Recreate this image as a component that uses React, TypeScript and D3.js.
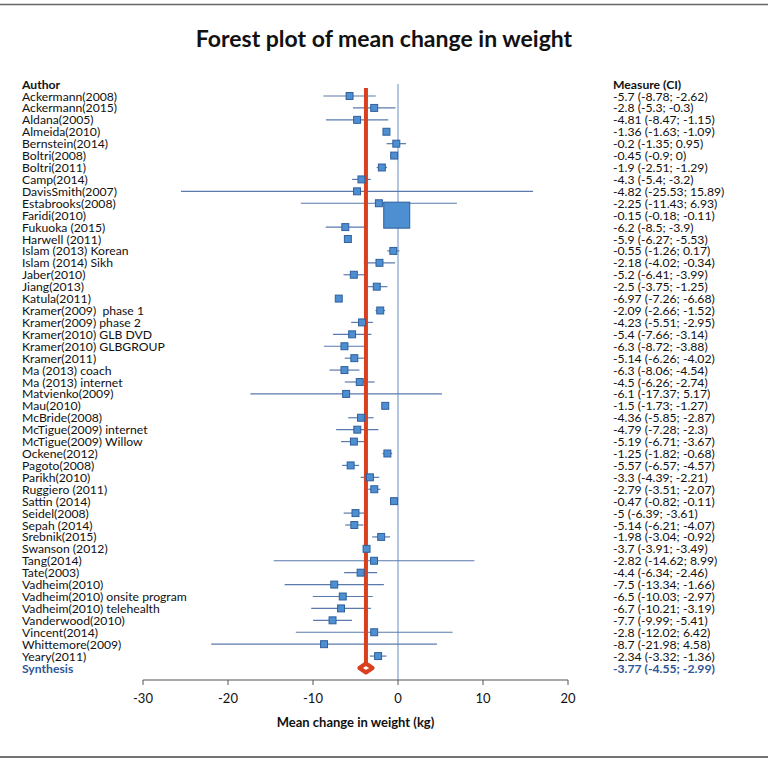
import * as d3 from "d3";

const authors = [
  "Ackermann(2008)", "Ackermann(2015)", "Aldana(2005)", "Almeida(2010)", "Bernstein(2014)",
  "Boltri(2008)", "Boltri(2011)", "Camp(2014)", "DavisSmith(2007)", "Estabrooks(2008)",
  "Faridi(2010)", "Fukuoka (2015)", "Harwell (2011)", "Islam (2013) Korean", "Islam (2014) Sikh",
  "Jaber(2010)", "Jiang(2013)", "Katula(2011)", "Kramer(2009)  phase 1", "Kramer(2009) phase 2",
  "Kramer(2010) GLB DVD", "Kramer(2010) GLBGROUP", "Kramer(2011)", "Ma (2013) coach", "Ma (2013) internet",
  "Matvienko(2009)", "Mau(2010)", "McBride(2008)", "McTigue(2009) internet", "McTigue(2009) Willow",
  "Ockene(2012)", "Pagoto(2008)", "Parikh(2010)", "Ruggiero (2011)", "Sattin (2014)",
  "Seidel(2008)", "Sepah (2014)", "Srebnik(2015)", "Swanson (2012)", "Tang(2014)",
  "Tate(2003)", "Vadheim(2010)", "Vadheim(2010) onsite program", "Vadheim(2010) telehealth", "Vanderwood(2010)",
  "Vincent(2014)", "Whittemore(2009)", "Yeary(2011)",
];

const means = [
  -5.7, -2.8, -4.81, -1.36, -0.2, -0.45, -1.9, -4.3, -4.82, -2.25,
  -0.15, -6.2, -5.9, -0.55, -2.18, -5.2, -2.5, -6.97, -2.09, -4.23,
  -5.4, -6.3, -5.14, -6.3, -4.5, -6.1, -1.5, -4.36, -4.79, -5.19,
  -1.25, -5.57, -3.3, -2.79, -0.47, -5, -5.14, -1.98, -3.7, -2.82,
  -4.4, -7.5, -6.5, -6.7, -7.7, -2.8, -8.7, -2.34,
];

const lower = [
  -8.78, -5.3, -8.47, -1.63, -1.35, -0.9, -2.51, -5.4, -25.53, -11.43,
  -0.18, -8.5, -6.27, -1.26, -4.02, -6.41, -3.75, -7.26, -2.66, -5.51,
  -7.66, -8.72, -6.26, -8.06, -6.26, -17.37, -1.73, -5.85, -7.28, -6.71,
  -1.82, -6.57, -4.39, -3.51, -0.82, -6.39, -6.21, -3.04, -3.91, -14.62,
  -6.34, -13.34, -10.03, -10.21, -9.99, -12.02, -21.98, -3.32,
];

const upper = [
  -2.62, -0.3, -1.15, -1.09, 0.95, 0, -1.29, -3.2, 15.89, 6.93,
  -0.11, -3.9, -5.53, 0.17, -0.34, -3.99, -1.25, -6.68, -1.52, -2.95,
  -3.14, -3.88, -4.02, -4.54, -2.74, 5.17, -1.27, -2.87, -2.3, -3.67,
  -0.68, -4.57, -2.21, -2.07, -0.11, -3.61, -4.07, -0.92, -3.49, 8.99,
  -2.46, -1.66, -2.97, -3.19, -5.41, 6.42, 4.58, -1.36,
];

// relative study weights (box area)
const weights = authors.map((a) => (a === "Faridi(2010)" ? 28 : 2));

const synthesis = { label: "Synthesis", mean: -3.77, lo: -4.55, hi: -2.99 };

const xTicks = [-30, -20, -10, 0, 10, 20];

const FONT = "Lato, 'Liberation Sans', sans-serif";

export default function App() {
  const width = 768;
  const height = 760;

  const x = d3.scaleLinear().domain([-30, 20]).range([143, 568]);
  const y = d3.scaleLinear().domain([0, authors.length]).range([96, 668]);
  const boxSize = d3.scaleSqrt().domain([0, d3.max(weights) as number]).range([0, 26]);

  const axisY = 680;
  const synthY = y(authors.length);
  const fs = 12.2;

  const fmt = (m: number, lo: number, hi: number) => `${m} (${lo}; ${hi})`;

  const diamond = d3.line()([
    [x(synthesis.lo), synthY],
    [x(synthesis.mean), synthY - 4.5],
    [x(synthesis.hi), synthY],
    [x(synthesis.mean), synthY + 4.5],
  ]) + "Z";

  return (
    <div style={{ position: "absolute", left: 0, top: 0 }}>
      <svg width={width} height={height} style={{ display: "block", fontFamily: FONT }}>
        <rect width={width} height={height} fill="#fff" />
        <line x1={0} x2={width} y1={4.5} y2={4.5} stroke="#666" strokeWidth={1.5} />
        <line x1={0} x2={width} y1={757} y2={757} stroke="#444" strokeWidth={1.5} />

        <text x={384} y={47} textAnchor="middle" fontSize={23} fontWeight="bold" fill="#111">
          Forest plot of mean change in weight
        </text>

        <text x={22} y={84} dominantBaseline="central" fontSize={fs} fontWeight="bold" fill="#111">
          Author
        </text>
        <text x={613} y={84} dominantBaseline="central" fontSize={fs} fontWeight="bold" fill="#111">
          Measure (CI)
        </text>

        {/* zero reference line */}
        <line x1={x(0)} x2={x(0)} y1={84} y2={axisY} stroke="#6a8cc2" strokeWidth={1} />

        {authors.map((a, i) => (
          <g key={a}>
            <text x={22} y={y(i)} dominantBaseline="central" fontSize={fs} fill="#111" style={{ whiteSpace: "pre" }}>
              {a}
            </text>
            <text x={613} y={y(i)} dominantBaseline="central" fontSize={fs} fill="#111">
              {fmt(means[i], lower[i], upper[i])}
            </text>
            <line x1={x(lower[i])} x2={x(upper[i])} y1={y(i)} y2={y(i)} stroke="#5a7aab" strokeWidth={1.2} />
          </g>
        ))}

        {/* synthesis line */}
        <line x1={x(synthesis.mean)} x2={x(synthesis.mean)} y1={88} y2={synthY - 3} stroke="#d8401f" strokeWidth={4} />

        {authors.map((a, i) => {
          const s = boxSize(weights[i]);
          return (
            <rect
              key={a + "-box"}
              x={x(means[i]) - s / 2}
              y={y(i) - s / 2}
              width={s}
              height={s}
              fill="#4d8fd0"
              stroke="#2f5f9c"
              strokeWidth={1}
            />
          );
        })}

        <path d={diamond} fill="#fff" stroke="#d8401f" strokeWidth={4} strokeLinejoin="round" />

        <text x={22} y={synthY} dominantBaseline="central" fontSize={fs} fontWeight="bold" fill="#2f5597">
          {synthesis.label}
        </text>
        <text x={613} y={synthY} dominantBaseline="central" fontSize={fs} fontWeight="bold" fill="#2f5597">
          {fmt(synthesis.mean, synthesis.lo, synthesis.hi)}
        </text>

        {/* x axis */}
        <line x1={x(-30)} x2={x(20)} y1={axisY} y2={axisY} stroke="#555" strokeWidth={1} />
        {xTicks.map((t) => (
          <g key={t}>
            <line x1={x(t)} x2={x(t)} y1={axisY} y2={axisY + 5} stroke="#555" strokeWidth={1} />
            <text x={x(t)} y={axisY + 18} textAnchor="middle" dominantBaseline="central" fontSize={13} fill="#111">
              {t}
            </text>
          </g>
        ))}
        <text x={(x(-30) + x(20)) / 2} y={722} textAnchor="middle" dominantBaseline="central" fontSize={13} fontWeight="bold" fill="#111">
          Mean change in weight (kg)
        </text>
      </svg>
    </div>
  );
}
